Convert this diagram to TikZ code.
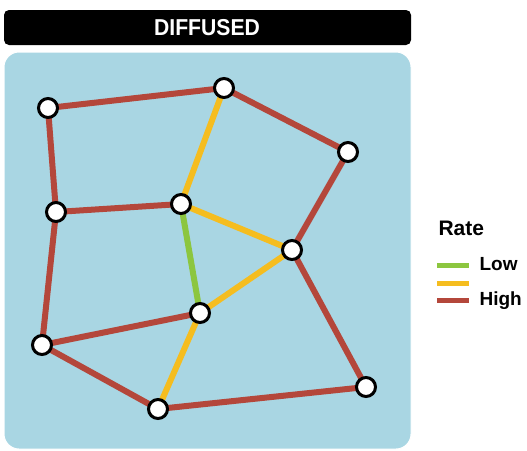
\documentclass[tikz,border=0pt]{standalone}
\usepackage{fontspec}
\setmainfont{Liberation Sans}

\definecolor{panel}{HTML}{A9D6E3}
\definecolor{rlow}{HTML}{8CC63F}
\definecolor{rmid}{HTML}{F5BD1F}
\definecolor{rhigh}{HTML}{B4473B}

\tikzset{
  station/.style={circle, draw=black, line width=3pt, fill=white, minimum size=19pt, inner sep=0pt},
  low/.style={rlow, line width=6pt},
  mid/.style={rmid, line width=6pt},
  high/.style={rhigh, line width=6pt},
  key/.style={line width=5pt}
}

\begin{document}
\begin{tikzpicture}[x=1pt, y=-1pt]
\useasboundingbox (0,0) rectangle (527,450);

% title bar and panel
\fill [black, rounded corners=5pt] (4,10) rectangle (411,45);
\node [white, font=\bfseries\fontsize{23}{23}\selectfont, xscale=0.92] (title) at (207,28) {DIFFUSED};
\fill [panel, rounded corners=15pt] (4,52) rectangle (411,449);
\draw [white, line width=1pt, rounded corners=15pt] (4,52) rectangle (411,449);

\coordinate (A) at (48,108);
\coordinate (B) at (224,88);
\coordinate (C) at (348,152);
\coordinate (D) at (56,212);
\coordinate (E) at (181,204);
\coordinate (F) at (292,250);
\coordinate (G) at (200,313);
\coordinate (H) at (42,345);
\coordinate (I) at (158,409);
\coordinate (J) at (366,387);

\draw [high] (A)--(B);
\draw [high] (B)--(C);
\draw [high] (A)--(D);
\draw [high] (D)--(E);
\draw [high] (C)--(F);
\draw [high] (F)--(J);
\draw [high] (D)--(H);
\draw [high] (H)--(G);
\draw [high] (H)--(I);
\draw [high] (I)--(J);
\draw [mid] (B)--(E);
\draw [mid] (E)--(F);
\draw [mid] (F)--(G);
\draw [mid] (G)--(I);
\draw [low] (E)--(G);

\foreach \p in {A,B,C,D,E,F,G,H,I,J}
  \node [station] (s\p) at (\p) {};

% legend
\node [anchor=west, font=\bfseries\fontsize{21}{21}\selectfont] (rate) at (435,228) {Rate};
\coordinate (lowa) at (437,265);
\coordinate (lowb) at (469,265);
\coordinate (mida) at (437,283);
\coordinate (midb) at (469,283);
\coordinate (higha) at (437,300);
\coordinate (highb) at (469,300);
\draw [low, key] (lowa)--(lowb);
\draw [mid, key] (mida)--(midb);
\draw [high, key] (higha)--(highb);
\node [anchor=west, font=\bfseries\fontsize{19}{19}\selectfont] (lowtxt) at (476,264) {Low};
\node [anchor=west, font=\bfseries\fontsize{19}{19}\selectfont] (hightxt) at (476,301) {High};
\end{tikzpicture}
\end{document}
